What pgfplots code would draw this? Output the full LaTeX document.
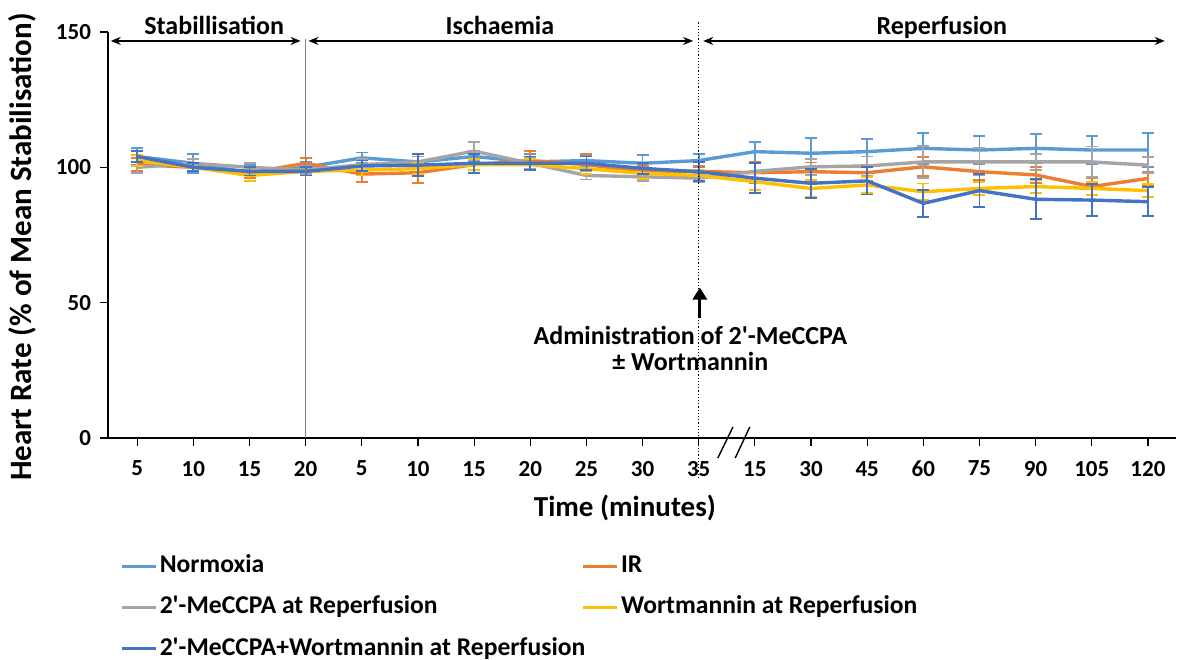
\documentclass[border=0pt]{standalone}
\usepackage{pgfplots}
\pgfplotsset{compat=1.18}
\usepackage{pgfplotstable}
\usepackage{fontspec}
\setmainfont{Carlito}
\usetikzlibrary{arrows.meta}

\definecolor{cnorm}{HTML}{5B9BD5}
\definecolor{cir}{HTML}{ED7D31}
\definecolor{cmec}{HTML}{A5A5A5}
\definecolor{cwort}{HTML}{FFC000}
\definecolor{cboth}{HTML}{4472C4}

% x = category position, y = mean, e = error
\pgfplotstableread{
x y e
1 104 3
2 101.5 3.5
3 98 3
4 100 2
5 103.5 2
6 102 2
7 104 2
8 102 3
9 102.5 2
10 101.5 3
11 102.5 2.5
12 105.8 3.7
13 105.2 5.6
14 105.8 4.8
15 107 5.8
16 106.4 5.2
17 107 5.3
18 106.4 5.2
19 106.4 6.4
}\normoxia

\pgfplotstableread{
x y e
1 101 2.5
2 100 1.5
3 98 2
4 101.5 2
5 97.5 3
6 98 3.7
7 101 2
8 102.5 3.5
9 101 4
10 98.4 2
11 98.5 2
12 98 4
13 98.4 3.4
14 98 3
15 100.2 3.5
16 98.4 3
17 97.2 3
18 92.9 3
19 95.9 2.5
}\ir

\pgfplotstableread{
x y e
1 100 2
2 101.5 1.5
3 100 1.5
4 99 1.5
5 101 2
6 102 2
7 106 3.5
8 101.5 2
9 97 1.5
10 96.5 1.5
11 96 1.5
12 98.5 3
13 100.2 3
14 100.5 3.5
15 102 6
16 102 5
17 102 3
18 102 5.7
19 100.8 3
}\mec

\pgfplotstableread{
x y e
1 102.5 2
2 100 1.5
3 97 2
4 98.5 1.5
5 99 2
6 99.5 2
7 101 2
8 101 2
9 99.5 2
10 97.8 2
11 97 2
12 94.7 3
13 92.2 3
14 93.5 3
15 91 3
16 92.2 2.5
17 92.9 2.5
18 92.2 2.5
19 91.4 2.5
}\wort

\pgfplotstableread{
x y e
1 104 2
2 100 1.5
3 98.5 1.5
4 98.5 1.5
5 100.5 2
6 100.8 4
7 101.5 3.5
8 101.5 2.5
9 101.5 2.5
10 99.6 2
11 98.4 3.5
12 96 5.5
13 94.1 5.4
14 95 5
15 86.7 5
16 91.4 6
17 88.2 7.4
18 87.9 6
19 87.3 5.3
}\both

\pgfplotsset{
  series/.style={line width=1.7pt, color=#1, mark=none,
    error bars/.cd, y dir=both, y explicit,
    error bar style={line width=0.9pt, color=#1},
    error mark options={rotate=90, mark size=3pt, line width=0.9pt, color=#1}},
}

\begin{document}
\begin{tikzpicture}
\useasboundingbox (-54pt,-110.5pt) rectangle (534.5pt,219pt);
\begin{axis}[
  at={(0,0)}, anchor=south west,
  scale only axis, width=534pt, height=203pt,
  xmin=0.48, xmax=19.5, ymin=0, ymax=150,
  axis x line=bottom, axis y line=left,
  axis line style={-, line width=0.7pt, black},
  xtick={1,...,19},
  xticklabels={5,10,15,20,5,10,15,20,25,30,35,15,30,45,60,75,90,105,120},
  ytick={0,50,100,150},
  tick style={black, line width=0.6pt},
  tick align=outside, major tick length=4pt,
  ticklabel style={font=\fontsize{11.5}{13}\selectfont\bfseries},
  /pgf/number format/assume math mode=true,
  xticklabel style={yshift=-4pt},
  yticklabel style={xshift=-1pt},
  xlabel={Time (minutes)},
  ylabel={Heart Rate (\% of Mean Stabilisation)},
  every axis x label/.style={at={(rel axis cs:0.484,0)}, anchor=center, yshift=-35pt,
    font=\fontsize{14.5}{16}\selectfont\bfseries},
  every axis y label/.style={at={(rel axis cs:0,0.47)}, anchor=center, xshift=-43pt, rotate=90,
    font=\fontsize{15.5}{17}\selectfont\bfseries},
  clip=false,
  legend columns=2,
  legend cell align=left,
  legend style={at={(rel axis cs:0.0112,-0.285)}, anchor=north west, draw=none, fill=none,
    inner sep=0pt, row sep=8.4pt, column sep=0pt,
    font=\fontsize{12.8}{15}\selectfont\bfseries,
    nodes={inner xsep=1pt, inner ysep=0pt, text height=9.3pt, text depth=2.9pt}},
  legend image code/.code={\draw[#1, line width=1.7pt] (0pt,0pt) -- (17pt,0pt);},
]
\addplot[series=cnorm] table[x=x, y=y, y error=e] {\normoxia};
\addlegendentry{\makebox[210pt][l]{Normoxia}}
\addplot[series=cir] table[x=x, y=y, y error=e] {\ir};
\addlegendentry{IR}
\addplot[series=cmec] table[x=x, y=y, y error=e] {\mec};
\addlegendentry{\makebox[210pt][l]{2\textquotesingle-MeCCPA at Reperfusion}}
\addplot[series=cwort] table[x=x, y=y, y error=e] {\wort};
\addlegendentry{Wortmannin at Reperfusion}
\addplot[series=cboth] table[x=x, y=y, y error=e] {\both};
\addlegendentry{\makebox[210pt][l]{2\textquotesingle-MeCCPA+Wortmannin at Reperfusion}}

% phase separators
\draw[gray, line width=0.5pt] (axis cs:4,0) -- (axis cs:4,147.5);
\draw[black, line width=0.6pt, densely dotted] (axis cs:11,-14.8) -- (axis cs:11,153.7);

% phase arrows and labels
\draw[{Stealth[length=5pt,width=4pt]}-{Stealth[length=5pt,width=4pt]}, line width=0.7pt]
  (axis cs:0.53,146.7) -- (axis cs:3.91,146.7);
\draw[{Stealth[length=5pt,width=4pt]}-{Stealth[length=5pt,width=4pt]}, line width=0.7pt]
  (axis cs:4.05,146.7) -- (axis cs:10.9,146.7);
\draw[{Stealth[length=5pt,width=4pt]}-{Stealth[length=5pt,width=4pt]}, line width=0.7pt]
  (axis cs:11.08,146.7) -- (axis cs:19.3,146.7);
\node[anchor=base, font=\fontsize{13}{15}\selectfont\bfseries] at (axis cs:2.37,148.9) {Stabillisation};
\node[anchor=base, font=\fontsize{13}{15}\selectfont\bfseries] at (axis cs:7.46,148.9) {Ischaemia};
\node[anchor=base, font=\fontsize{13}{15}\selectfont\bfseries] at (axis cs:15.33,148.9) {Reperfusion};

% administration arrow
\draw[-{Triangle[length=6pt,width=7pt]}, line width=1.6pt] (axis cs:11.02,44.3) -- (axis cs:11.02,55.6);
\node[anchor=base, font=\fontsize{13}{15}\selectfont\bfseries] at (axis cs:10.85,34.4) {Administration of 2\textquotesingle-MeCCPA};
\node[anchor=base, font=\fontsize{13}{15}\selectfont\bfseries] at (axis cs:10.85,25.1) {± Wortmannin};

% axis break
\draw[black, line width=0.7pt] (axis cs:11.34,-7.4) -- (axis cs:11.61,4.1);
\draw[black, line width=0.7pt] (axis cs:11.65,-7.4) -- (axis cs:11.91,4.1);
\end{axis}
\end{tikzpicture}
\end{document}
